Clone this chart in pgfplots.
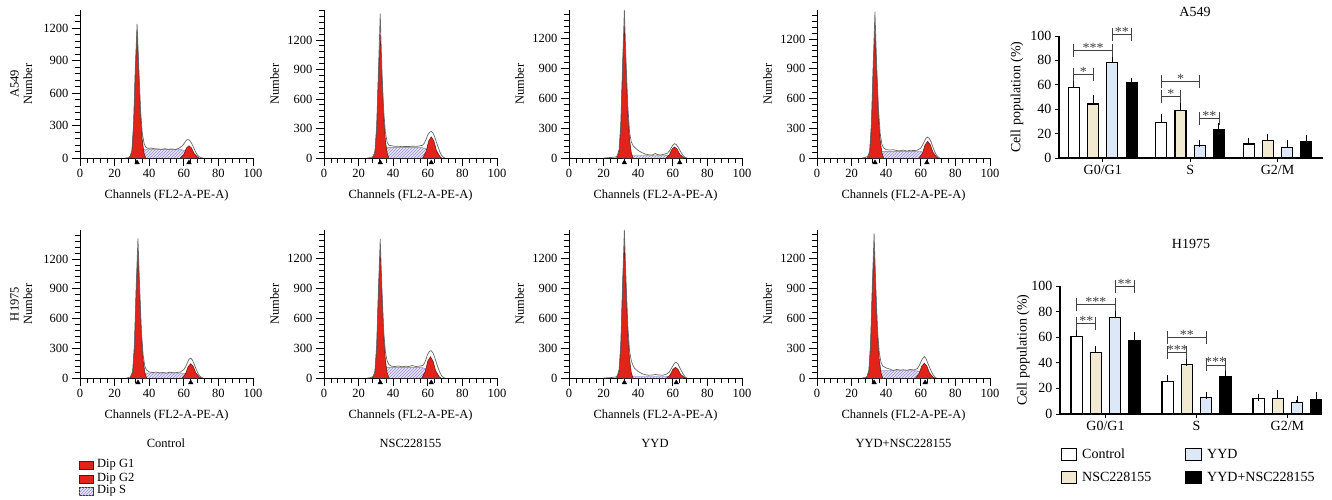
\documentclass[border=0pt]{standalone}
\usepackage{fontspec}
\setmainfont{Liberation Serif}
\usepackage{pgfplots}
\pgfplotsset{compat=1.18}
\usetikzlibrary{patterns}
\definecolor{dipred}{HTML}{E2231A}
\definecolor{dipedge}{HTML}{5A1510}
\definecolor{slav}{HTML}{E6E3F5}
\definecolor{shatch}{HTML}{9A92D6}
\definecolor{sedge}{HTML}{2B2A6B}
\definecolor{beige}{HTML}{F2EAD0}
\definecolor{lblue}{HTML}{DCE8F7}
\newcommand\hf{\fontsize{12.5}{13.5}\selectfont}
\newcommand\bcf{\fontsize{14}{15}\selectfont}
\tikzset{brk/.style={black!75, line width=0.9pt}}
\pgfplotsset{
 hist/.style={
  scale only axis, width=173pt, height=148pt, anchor=south west,
  xmin=0, xmax=100, ymin=0, clip=false,
  axis x line*=bottom, axis y line*=left,
  axis line style={-, line width=1pt},
  xtick={0,20,...,100}, minor xtick={4,8,...,96},
  ytick={0,300,...,1200}, minor ytick={60,120,...,1500},
  tick align=outside, major tick length=8pt, minor tick length=5pt,
  tick style={black, line width=0.8pt},
  tick label style={font=\hf},
  /pgf/number format/assume math mode=true,
  /pgf/number format/1000 sep={},
  label style={font=\hf},
  xlabel={Channels (FL2-A-PE-A)},
  xlabel style={at={(axis description cs:0.5,-0.25)}, anchor=center},
  ylabel={Number},
  ylabel style={at={(axis description cs:-0.285,0.5)}, anchor=center, align=center},
 },
 g1/.style={fill=dipred, draw=dipedge, line width=0.5pt},
 sph/.style={fill=slav, draw=shatch, line width=0.4pt, postaction={pattern=north east lines, pattern color=shatch}},
 tot/.style={draw=black!60, line width=0.7pt},
 tri/.style={only marks, mark=triangle*, mark size=2.6pt, black, mark options={yshift=-4.5pt}},
 barc/.style={
  scale only axis, anchor=south west, ybar, ymin=0, ymax=100, clip=false,
  axis x line*=bottom, axis y line*=left,
  axis line style={-, line width=1.4pt},
  ytick={0,20,...,100}, xtick={0,1,2}, xticklabels={G0/G1,S,G2/M},
  tick style={line width=1pt, black},
  tick align=outside, major tick length=4pt,
  tick label style={font=\bcf}, label style={font=\bcf},
  /pgf/number format/assume math mode=true,
  ylabel={Cell population (\%)}, ylabel style={anchor=center},
  bar width=0.126,
  error bars/y dir=plus, error bars/y explicit,
  error bars/error mark options={mark size=3.5pt, line width=1pt, black},
  error bars/error bar style={line width=1pt, black},
 },
 bk/.style={draw=black, line width=1.1pt},
}
\newcommand\brk[5]{%
 \draw[brk] ([yshift=-6.5pt]axis cs:#1,#4) -- ([yshift=6.5pt]axis cs:#1,#4);
 \draw[brk] ([yshift=-6.5pt]axis cs:#2,#4) -- ([yshift=6.5pt]axis cs:#2,#4);
 \draw[brk] (axis cs:#1,#4) -- (axis cs:#2,#4);
 \node[font=\bcf, text=black!75, anchor=base, inner sep=0pt, yshift=-2pt] at (axis cs:#3,#4) {#5};}
\begin{document}
\begin{tikzpicture}
\useasboundingbox (0,0) rectangle (1332pt,-500pt);
% ---------- Row 1 : A549 ----------
\begin{axis}[hist, at={(80pt,-158pt)}, ymax=1366, ylabel={A549\\Number}, ylabel style={at={(axis description cs:-0.34,0.5)}}]
\addplot[sph] coordinates {(32,0)(34,30)(35,55)(37,80)(40,82)(45,80)(50,80)(55,80)(58,78)(61,65)(63,50)(65,25)(67,5)(68,0)};
\addplot[g1] coordinates {(28.5,0)(30,59)(31,296)(32,804)(33,1182)(34,768)(35,390)(36,165)(37,47)(38,0)};
\addplot[g1] coordinates {(58,0)(60,34)(61.5,91)(63,114)(64.5,91)(66,40)(68,8)(69,0)};
\addplot[tot] coordinates {(26,0)(28,4)(29,15)(30,65)(31,320)(32,840)(33,1237)(34,830)(35,440)(36,230)(37,135)(38,100)(39,90)(41,92)(43,85)(45,84)(47,80)(49,86)(51,80)(53,84)(55,79)(57,88)(59,110)(60,130)(61,155)(62,170)(63,168)(64,150)(65,120)(66,85)(67,50)(68,25)(69,10)(70,3)(71,0)};
\addplot[tri] coordinates {(33,0)(63,0)};
\end{axis}
\begin{axis}[hist, at={(324pt,-158pt)}, ymax=1505]
\addplot[sph] coordinates {(31,0)(33,50)(35,95)(37,108)(45,108)(55,108)(58,100)(60,80)(62,55)(64,25)(66,5)(67,0)};
\addplot[g1] coordinates {(28,0)(29.5,63)(30.5,314)(31.5,855)(32.5,1257)(33.5,817)(34.5,415)(35.5,176)(36.5,50)(37.5,0)};
\addplot[g1] coordinates {(57,0)(59,65)(60.5,173)(62,216)(63.5,173)(65,76)(67,15)(68,0)};
\addplot[tot] coordinates {(25,0)(27,4)(28,12)(29,30)(29.5,80)(30.5,340)(31.5,900)(32.5,1467)(33.5,880)(34.5,480)(35.5,260)(36.5,160)(37.5,130)(39,125)(41,118)(43,120)(45,115)(47,118)(49,116)(51,120)(53,118)(55,122)(57,130)(58,150)(59,190)(60,235)(61,262)(62,270)(63,255)(64,215)(65,160)(66,110)(67,60)(68,25)(69,8)(70,0)};
\addplot[tri] coordinates {(32.5,0)(62,0)};
\end{axis}
\begin{axis}[hist, at={(569pt,-158pt)}, ymax=1480]
\addplot[sph] coordinates {(31,0)(34,15)(37,25)(45,25)(55,25)(58,22)(61,15)(64,5)(66,0)};
\addplot[g1] coordinates {(27.5,0)(29,67)(30,333)(31,906)(32,1333)(33,866)(34,440)(35,187)(36,53)(37,0)};
\addplot[g1] coordinates {(56,0)(58,33)(59.5,88)(61,110)(62.5,88)(64,38)(66,8)(67,0)};
\addplot[tot] coordinates {(20,0)(24,5)(27,10)(28,25)(29,90)(30,360)(31,950)(32,1480)(33,950)(34,520)(35,260)(36,160)(37,125)(38,105)(40,75)(42,55)(44,40)(46,32)(48,30)(50,45)(51,35)(53,30)(55,38)(57,50)(58,70)(59,100)(60,128)(61,143)(62,135)(63,110)(64,80)(65,50)(66,25)(67,8)(68,0)};
\addplot[tri] coordinates {(32,0)(64,0)};
\end{axis}
\begin{axis}[hist, at={(817pt,-158pt)}, ymax=1492]
\addplot[sph] coordinates {(32,0)(34,30)(36,60)(38,67)(45,67)(55,67)(60,65)(63,50)(65,30)(67,10)(69,0)};
\addplot[g1] coordinates {(29,0)(30.5,66)(31.5,331)(32.5,900)(33.5,1324)(34.5,861)(35.5,437)(36.5,185)(37.5,53)(38.5,0)};
\addplot[g1] coordinates {(59,0)(61,50)(62.5,134)(64,168)(65.5,134)(67,59)(69,12)(70,0)};
\addplot[tot] coordinates {(26,0)(28,5)(29,15)(30,30)(30.5,85)(31.5,360)(32.5,950)(33.5,1475)(34.5,930)(35.5,500)(36.5,250)(37.5,140)(38.5,100)(40,85)(42,80)(44,84)(46,75)(48,72)(50,80)(52,70)(54,78)(56,75)(58,80)(60,100)(61,130)(62,165)(63,200)(64,211)(65,195)(66,160)(67,110)(68,65)(69,30)(70,10)(71,0)};
\addplot[tri] coordinates {(33.5,0)(63.5,0)};
\end{axis}
% ---------- Row 2 : H1975 ----------
\begin{axis}[hist, at={(80pt,-378pt)}, ymax=1492, ylabel={H1975\\Number}, ylabel style={at={(axis description cs:-0.34,0.5)}}]
\addplot[sph] coordinates {(32,0)(34,25)(36,45)(38,50)(50,50)(58,50)(61,45)(63,35)(65,20)(67,5)(68,0)};
\addplot[g1] coordinates {(29,0)(30.5,65)(31.5,323)(32.5,877)(33.5,1290)(34.5,839)(35.5,426)(36.5,181)(37.5,52)(38.5,0)};
\addplot[g1] coordinates {(59,0)(61,43)(62.5,115)(64,144)(65.5,115)(67,50)(69,10)(70,0)};
\addplot[tot] coordinates {(27,0)(29,10)(30,40)(30.5,80)(31.5,350)(32.5,930)(33.5,1408)(34.5,900)(35.5,470)(36.5,230)(37.5,117)(38.5,80)(40,62)(42,55)(44,60)(46,52)(48,55)(50,50)(52,58)(54,52)(56,55)(58,60)(60,85)(61,110)(62,150)(63,190)(64,201)(65,180)(66,140)(67,95)(68,55)(69,25)(70,8)(71,0)};
\addplot[tri] coordinates {(33.5,0)(64,0)};
\end{axis}
\begin{axis}[hist, at={(324pt,-378pt)}, ymax=1480]
\addplot[sph] coordinates {(31,0)(33,50)(35,95)(37,107)(45,107)(55,107)(58,98)(60,80)(62,55)(64,25)(66,5)(67,0)};
\addplot[g1] coordinates {(28,0)(29.5,64)(30.5,318)(31.5,866)(32.5,1273)(33.5,827)(34.5,420)(35.5,178)(36.5,51)(37.5,0)};
\addplot[g1] coordinates {(56.5,0)(58.5,64)(60,170)(61.5,213)(63,170)(64.5,75)(66.5,15)(67.5,0)};
\addplot[tot] coordinates {(25,0)(27,4)(28,12)(29,30)(29.5,80)(30.5,340)(31.5,900)(32.5,1390)(33.5,880)(34.5,470)(35.5,260)(36.5,170)(37.5,135)(39,118)(41,115)(43,120)(45,112)(47,118)(49,115)(51,125)(53,115)(55,118)(57,125)(58,145)(59,190)(60,240)(61,268)(62,273)(63,250)(64,205)(65,150)(66,100)(67,55)(68,22)(69,6)(70,0)};
\addplot[tri] coordinates {(32.5,0)(62,0)};
\end{axis}
\begin{axis}[hist, at={(569pt,-378pt)}, ymax=1480]
\addplot[sph] coordinates {(31,0)(34,10)(37,15)(45,15)(55,15)(58,14)(61,10)(64,3)(66,0)};
\addplot[g1] coordinates {(27.5,0)(29,67)(30,335)(31,911)(32,1340)(33,871)(34,442)(35,188)(36,54)(37,0)};
\addplot[g1] coordinates {(56.5,0)(58.5,32)(60,86)(61.5,107)(63,86)(64.5,37)(66.5,8)(67.5,0)};
\addplot[tot] coordinates {(20,0)(24,4)(27,10)(28,25)(29,90)(30,360)(31,960)(32,1480)(33,960)(34,520)(35,270)(36,173)(37,125)(38,95)(40,65)(42,45)(44,33)(46,28)(48,30)(50,35)(52,30)(54,28)(56,35)(58,60)(59,90)(60,120)(61,150)(62,157)(63,140)(64,105)(65,70)(66,40)(67,15)(68,0)};
\addplot[tri] coordinates {(32,0)(62,0)};
\end{axis}
\begin{axis}[hist, at={(817pt,-378pt)}, ymax=1480]
\addplot[sph] coordinates {(31,0)(33,35)(35,65)(37,73)(45,73)(55,73)(58,70)(60,60)(62,45)(64,20)(66,5)(67,0)};
\addplot[g1] coordinates {(28.5,0)(30,65)(31,327)(32,889)(33,1307)(34,850)(35,431)(36,183)(37,52)(38,0)};
\addplot[g1] coordinates {(57,0)(59,44)(60.5,118)(62,147)(63.5,118)(65,51)(67,10)(68,0)};
\addplot[tot] coordinates {(26,0)(28,5)(29,15)(30,80)(31,350)(32,940)(33,1447)(34,900)(35,470)(36,250)(37,157)(38,120)(40,100)(42,90)(44,75)(46,85)(48,80)(50,82)(52,78)(54,85)(56,80)(58,95)(59,120)(60,160)(61,195)(62,213)(63,195)(64,150)(65,110)(66,70)(67,35)(68,12)(69,0)};
\addplot[tri] coordinates {(33,0)(62.5,0)};
\end{axis}
% column labels
\node[font=\hf] at (166pt,-443pt) {Control};
\node[font=\hf] at (410.5pt,-443pt) {NSC228155};
\node[font=\hf] at (655pt,-443pt) {YYD};
\node[font=\hf] at (903.5pt,-443pt) {YYD+NSC228155};
% histogram legend
\filldraw[fill=dipred, draw=dipedge, line width=0.8pt] (79pt,-461pt) rectangle (93pt,-469pt);
\filldraw[fill=dipred, draw=dipedge, line width=0.8pt] (79pt,-475pt) rectangle (93pt,-483pt);
\filldraw[fill=slav, draw=sedge, line width=0.8pt, postaction={pattern=north east lines, pattern color=shatch}] (79pt,-487pt) rectangle (93pt,-495pt);
\node[font=\hf, anchor=west, inner sep=0pt] at (97pt,-465pt) {Dip G1};
\node[font=\hf, anchor=west, inner sep=0pt] at (97pt,-479pt) {Dip G2};
\node[font=\hf, anchor=west, inner sep=0pt] at (97pt,-491pt) {Dip S};
% ---------- Bar chart A549 ----------
\node[font=\bcf] at (1195pt,-12pt) {A549};
\begin{axis}[barc, at={(1059pt,-158pt)}, width=264pt, height=122pt, xmin=-0.5, xmax=2.52,
  ylabel style={at={(axis description cs:-0.159,0.5)}}]
\addplot[bk, fill=white, bar shift=-0.33] table[x=x, y=y, y error=e] {
x y e
0 57.5 3.5
1 29.3 4.0
2 11.5 2.4
};
\addplot[bk, fill=beige, bar shift=-0.11] table[x=x, y=y, y error=e] {
x y e
0 44.3 4.6
1 39.0 3.9
2 14.2 2.7
};
\addplot[bk, fill=lblue, bar shift=0.11] table[x=x, y=y, y error=e] {
x y e
0 78.4 3.3
1 10.4 1.6
2 8.7 3.0
};
\addplot[bk, fill=black, bar shift=0.33] table[x=x, y=y, y error=e] {
x y e
0 62.0 1.1
1 23.2 2.8
2 13.7 2.4
};
\brk{-0.33}{-0.11}{-0.22}{68.6}{*}
\brk{-0.33}{0.11}{-0.11}{88.5}{***}
\brk{0.11}{0.33}{0.22}{101}{**}
\brk{0.67}{1.11}{0.89}{62.6}{*}
\brk{0.67}{0.89}{0.78}{50.3}{*}
\brk{1.11}{1.33}{1.22}{32.5}{**}
\end{axis}
% ---------- Bar chart H1975 ----------
\node[font=\bcf] at (1191pt,-244pt) {H1975};
\begin{axis}[barc, at={(1060pt,-414pt)}, width=262pt, height=128pt, xmin=-0.5, xmax=2.38,
  ylabel style={at={(axis description cs:-0.14,0.5)}}]
\addplot[bk, fill=white, bar shift=-0.316] table[x=x, y=y, y error=e] {
x y e
0 60.5 2.7
1 25.4 2.3
2 11.8 1.3
};
\addplot[bk, fill=beige, bar shift=-0.105] table[x=x, y=y, y error=e] {
x y e
0 48.2 2.3
1 38.5 1.8
2 11.8 3.9
};
\addplot[bk, fill=lblue, bar shift=0.105] table[x=x, y=y, y error=e] {
x y e
0 75.5 3.6
1 13.1 1.6
2 8.9 2.1
};
\addplot[bk, fill=black, bar shift=0.316] table[x=x, y=y, y error=e] {
x y e
0 57.3 4.0
1 29.3 2.1
2 11.0 3.4
};
\brk{-0.316}{-0.105}{-0.21}{70.9}{**}
\brk{-0.316}{0.105}{-0.105}{85.6}{***}
\brk{0.105}{0.316}{0.21}{99.5}{**}
\brk{0.684}{1.105}{0.895}{60}{**}
\brk{0.684}{0.895}{0.79}{48.3}{***}
\brk{1.105}{1.316}{1.21}{38.3}{***}
\end{axis}
% bar legend
\filldraw[fill=white, draw=black, line width=1pt] (1061pt,-448pt) rectangle (1076pt,-460pt);
\node[font=\bcf, anchor=west, inner sep=0pt] at (1082pt,-454pt) {Control};
\filldraw[fill=lblue, draw=black, line width=1pt] (1185pt,-448pt) rectangle (1201pt,-460pt);
\node[font=\bcf, anchor=west, inner sep=0pt] at (1207pt,-454pt) {YYD};
\filldraw[fill=beige, draw=black, line width=1pt] (1061pt,-471pt) rectangle (1076pt,-483pt);
\node[font=\bcf, anchor=west, inner sep=0pt] at (1082pt,-477pt) {NSC228155};
\filldraw[fill=black, draw=black, line width=1pt] (1185pt,-471pt) rectangle (1201pt,-483pt);
\node[font=\bcf, anchor=west, inner sep=0pt] at (1207pt,-477pt) {YYD+NSC228155};
\end{tikzpicture}
\end{document}
